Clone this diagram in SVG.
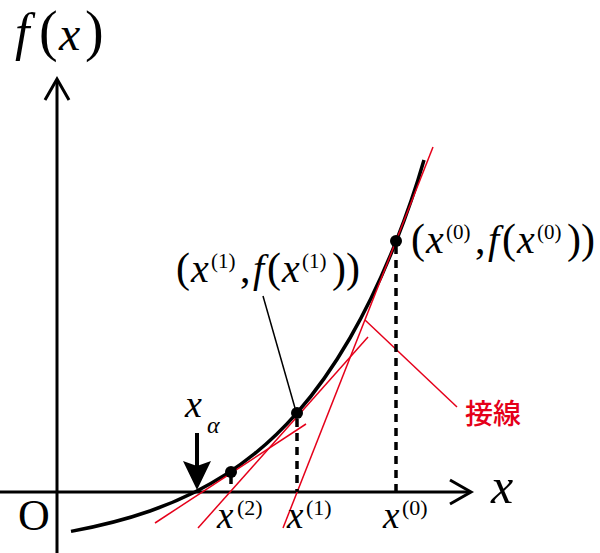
<svg xmlns="http://www.w3.org/2000/svg" width="600" height="553" viewBox="0 0 600 553">
<style>
.t{font-family:"Liberation Serif","Times New Roman",serif;fill:#000}
.i{font-style:italic}
.ax{stroke:#000;stroke-width:3;fill:none}
.tan{stroke:#e5001a;stroke-width:1.5;fill:none}
.dash{stroke:#000;stroke-width:3.5;stroke-dasharray:8 6;fill:none}
.dot{fill:#000}
.l{font-size:42px}
.li{font-size:40px}
.s{font-size:21px}
</style>
<g id="axes">
<line class="ax" x1="0" y1="492" x2="470" y2="492"/>
<polyline class="ax" points="450,480 471,492 450,504"/>
<line class="ax" x1="57" y1="553" x2="57" y2="80"/>
<polyline class="ax" points="45,100 57,79 69,100"/>
<text class="t" x="18" y="530" font-size="44">O</text>
<text class="t i" x="491" y="503" font-size="50">x</text>
<text class="t i" x="15" y="50" font-size="52">f</text>
<text class="t" font-size="56" y="50"><tspan x="39">(</tspan><tspan x="85">)</tspan></text>
<text class="t i" x="59" y="50" font-size="48">x</text>
</g>
<g id="curve">
<path d="M71,531.4 C97.3,526.5 123.7,520.2 150,511 C165,505.75 180,499.5 195,492 C215,482 235,469.6 255,453.4 C269,442.1 283,428.8 297,412.9 C314.7,392.9 332.3,368.6 350,338 C365.3,311.4 380.7,280 396,241.6 C405.3,218.2 414.7,192.2 424,160" fill="none" stroke="#000" stroke-width="3.5"/>
</g>
<g id="connectors">
<line class="tan" x1="433" y1="147" x2="283" y2="528"/>
<line class="tan" x1="368" y1="337" x2="198" y2="528"/>
<line class="tan" x1="306" y1="424" x2="155" y2="523"/>
<line class="tan" x1="365" y1="320" x2="457" y2="407"/>
<line class="dash" x1="396" y1="246" x2="396" y2="492"/>
<line class="dash" x1="297" y1="419" x2="297" y2="492"/>
<line stroke="#000" stroke-width="3.5" x1="231" y1="475" x2="231" y2="484"/>
<line stroke="#000" stroke-width="1.5" x1="263" y1="296" x2="295" y2="408"/>
<line stroke="#000" stroke-width="4" x1="197" y1="433" x2="197" y2="466"/>
<path d="M183,461 L197,490 L211,461 L197,466 Z" fill="#000"/>
</g>
<g id="p0">
<circle class="dot" cx="396" cy="241" r="6"/>
<text class="t l" y="253"><tspan x="411">(</tspan><tspan x="475">,</tspan><tspan x="502">(</tspan><tspan x="567">))</tspan></text>
<text class="t s" y="239"><tspan x="446">(0)</tspan><tspan x="537">(0)</tspan></text>
<text class="t i li" y="253"><tspan x="426">x</tspan><tspan x="488">f</tspan><tspan x="517">x</tspan></text>
</g>
<g id="p1">
<circle class="dot" cx="297" cy="413" r="6"/>
<text class="t l" y="282"><tspan x="176">(</tspan><tspan x="240">,</tspan><tspan x="267">(</tspan><tspan x="332">))</tspan></text>
<text class="t s" y="268"><tspan x="211">(1)</tspan><tspan x="302">(1)</tspan></text>
<text class="t i li" y="282"><tspan x="191">x</tspan><tspan x="253">f</tspan><tspan x="282">x</tspan></text>
</g>
<g id="p2">
<circle class="dot" cx="231" cy="472" r="6"/>
</g>
<g id="xalpha">
<text class="t i" x="185" y="417" font-size="38">x</text>
<text class="t i" x="207" y="433" font-size="24">α</text>
</g>
<g id="xlabels">
<text class="t i" x="217" y="528" font-size="37">x</text>
<text class="t" x="237" y="515" font-size="22">(2)</text>
<text class="t i" x="287" y="528" font-size="37">x</text>
<text class="t" x="306" y="515" font-size="22">(1)</text>
<text class="t i" x="383" y="528" font-size="37">x</text>
<text class="t" x="402" y="515" font-size="22">(0)</text>
</g>
<g id="label">
<text x="493" y="424" font-size="28" text-anchor="middle" fill="#e5001a" font-family="'Noto Sans CJK JP','Noto Sans',sans-serif" font-weight="500">接線</text>
</g>
</svg>
